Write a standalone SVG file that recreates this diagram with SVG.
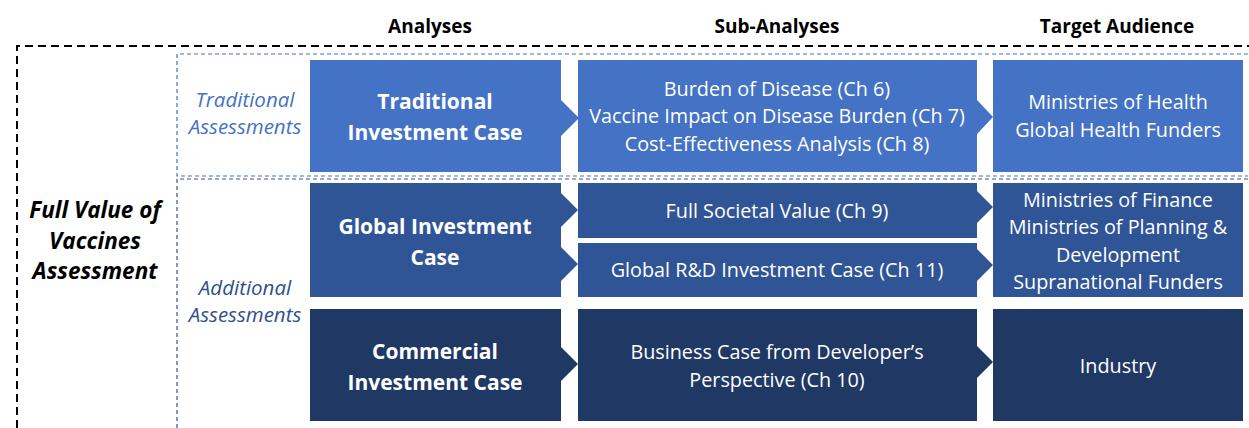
<svg xmlns="http://www.w3.org/2000/svg" width="1249" height="428" viewBox="0 0 1249 428">
  <style>
    .hdr { font-family: "Open Sans", "Noto Sans", sans-serif; font-weight: 700; font-size: 19px; fill: #000; text-anchor: middle; }
    .main { font-family: "Open Sans", "Noto Sans", sans-serif; font-weight: 700; font-size: 21px; fill: #fff; text-anchor: middle; }
    .sub { font-family: "Open Sans", "Noto Sans", sans-serif; font-size: 19.8px; fill: #fff; text-anchor: middle; }
    .side { font-family: "Open Sans", "Noto Sans", sans-serif; font-style: italic; font-size: 20.5px; text-anchor: middle; }
    .title { font-family: "Open Sans", "Noto Sans", sans-serif; font-style: italic; font-weight: 700; font-size: 22.5px; fill: #000; text-anchor: middle; }
    .trad { fill: #4472C4; }
    .glob { fill: #2F5597; }
    .comm { fill: #203864; }
  </style>

  <!-- column headers -->
  <text class="hdr" x="430" y="33">Analyses</text>
  <text class="hdr" x="777" y="33">Sub-Analyses</text>
  <text class="hdr" x="1117" y="33">Target Audience</text>

  <!-- frames -->
  <g id="frames" fill="none">
    <path d="M17,428 V46 H1249" stroke="#000" stroke-width="2" stroke-dasharray="8,5"/>
    <path d="M1248,54 H177 V176 H1248" stroke="#4472C4" stroke-width="1.2" stroke-dasharray="4,3"/>
    <path d="M1248,179 H177 V428" stroke="#2F5597" stroke-width="1.2" stroke-dasharray="4,3"/>
  </g>

  <!-- overall label -->
  <g id="full-value">
    <text class="title" x="95" y="218">Full Value of</text>
    <text class="title" x="95" y="249">Vaccines</text>
    <text class="title" x="95" y="279">Assessment</text>
  </g>

  <g id="traditional-label">
    <text class="side" x="245" y="107" fill="#4472C4">Traditional</text>
    <text class="side" x="245" y="134" fill="#4472C4">Assessments</text>
  </g>
  <g id="additional-label">
    <text class="side" x="245" y="295" fill="#2F4F8A">Additional</text>
    <text class="side" x="245" y="322" fill="#2F4F8A">Assessments</text>
  </g>

  <!-- analyses column -->
  <g id="traditional-investment-case">
    <polygon class="trad" points="310,60 561,60 561,100 579,118 561,136 561,172 310,172"/>
    <text class="main" x="435" y="109">Traditional</text>
    <text class="main" x="435" y="140">Investment Case</text>
  </g>
  <g id="global-investment-case">
    <polygon class="glob" points="310,183 561,183 561,193 578,210 561,227 561,247 578,264 561,281 561,297 310,297"/>
    <text class="main" x="435" y="234">Global Investment</text>
    <text class="main" x="435" y="265">Case</text>
  </g>
  <g id="commercial-investment-case">
    <polygon class="comm" points="310,309 561,309 561,347 578,364 561,381 561,421 310,421"/>
    <text class="main" x="435" y="359">Commercial</text>
    <text class="main" x="435" y="390">Investment Case</text>
  </g>

  <!-- sub-analyses column -->
  <g id="traditional-sub">
    <polygon class="trad" points="578,60 977,60 977,100 993,117 977,134 977,172 578,172"/>
    <text class="sub" x="777" y="96">Burden of Disease (Ch 6)</text>
    <text class="sub" x="777" y="123">Vaccine Impact on Disease Burden (Ch 7)</text>
    <text class="sub" x="777" y="151">Cost-Effectiveness  Analysis (Ch 8)</text>
  </g>
  <g id="full-societal-value">
    <polygon class="glob" points="578,183 977,183 977,191 993,207 977,223 977,238 578,238"/>
    <text class="sub" x="777" y="218">Full Societal Value (Ch 9)</text>
  </g>
  <g id="global-rd-case">
    <polygon class="glob" points="578,243 977,243 977,249 993,265 977,281 977,297 578,297"/>
    <text class="sub" x="777" y="277">Global R&amp;D Investment Case (Ch 11)</text>
  </g>
  <g id="business-case">
    <polygon class="comm" points="578,309 977,309 977,346 993,362 977,378 977,421 578,421"/>
    <text class="sub" x="777" y="359">Business Case from Developer’s</text>
    <text class="sub" x="777" y="387">Perspective (Ch 10)</text>
  </g>

  <!-- target audience column -->
  <g id="audience-health">
    <rect class="trad" x="993" y="60" width="250" height="112"/>
    <text class="sub" x="1118" y="109">Ministries of Health</text>
    <text class="sub" x="1118" y="137">Global Health Funders</text>
  </g>
  <g id="audience-finance">
    <rect class="glob" x="993" y="183" width="250" height="114"/>
    <text class="sub" x="1118" y="207">Ministries of Finance</text>
    <text class="sub" x="1118" y="234">Ministries of Planning &amp;</text>
    <text class="sub" x="1118" y="262">Development</text>
    <text class="sub" x="1118" y="289">Supranational Funders</text>
  </g>
  <g id="audience-industry">
    <rect class="comm" x="993" y="309" width="250" height="112"/>
    <text class="sub" x="1118" y="373">Industry</text>
  </g>

  <!-- connectors are the chevron points built into the shapes above -->
  <g id="connectors"/>
</svg>
